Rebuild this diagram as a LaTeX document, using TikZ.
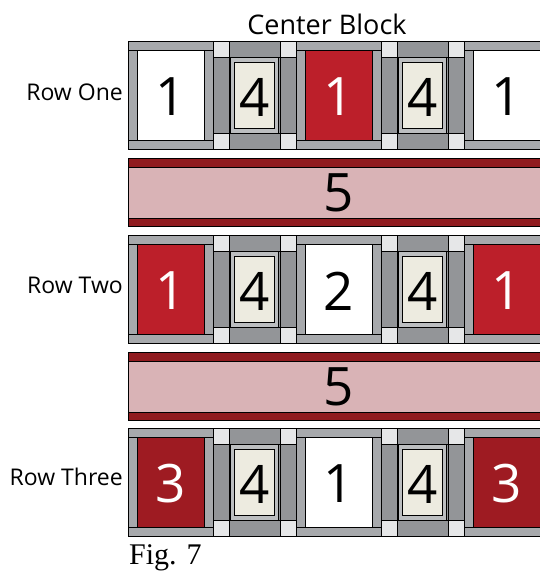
\documentclass[tikz,border=0pt]{standalone}
\usepackage{fontspec}
\setmainfont{Open Sans}
\newfontfamily\figfont{Liberation Serif}
\definecolor{bordergray}{HTML}{A7A9AC}
\definecolor{darkgray}{HTML}{939598}
\definecolor{sqgray}{HTML}{E6E7E8}
\definecolor{framegray}{HTML}{BCBEC0}
\definecolor{cream}{HTML}{EDEBE0}
\definecolor{brightred}{HTML}{BC1F2A}
\definecolor{deepred}{HTML}{9E1B22}
\definecolor{bandred}{HTML}{901B1F}
\definecolor{bandpink}{HTML}{D9B3B6}
\tikzset{
  piece/.style={draw=black, line width=0.8pt},
  digit/.style={font=\fontsize{53}{53}\selectfont, inner sep=0pt},
  rowlabel/.style={font=\fontsize{23}{24}\selectfont, anchor=east, inner sep=0pt},
}
% big block: x, y, fill, text colour, digit, name
\newcommand{\bigblk}[6]{%
  \fill[#3] (#1+9,#2+9) rectangle (#1+76,#2+99);
  \draw[piece] (#1+9,#2+9) rectangle (#1+76,#2+99);
  \draw[piece, fill=bordergray] (#1,#2) rectangle (#1+85,#2+9);
  \draw[piece, fill=bordergray] (#1,#2+99) rectangle (#1+85,#2+108);
  \draw[piece, fill=bordergray] (#1,#2+9) rectangle (#1+9,#2+99);
  \draw[piece, fill=bordergray] (#1+76,#2+9) rectangle (#1+85,#2+99);
  \node[digit, text=#4] (#6) at (#1+42.5,#2+56) {#5};
}
\newcommand{\sashcol}[2]{%
  \draw[piece, fill=sqgray] (#1,#2) rectangle (#1+16,#2+16);
  \draw[piece, fill=darkgray] (#1,#2+16) rectangle (#1+16,#2+92);
  \draw[piece, fill=sqgray] (#1,#2+92) rectangle (#1+16,#2+108);
}
\newcommand{\fourblk}[3]{%
  \draw[piece, fill=darkgray] (#1,#2) rectangle (#1+51,#2+16);
  \draw[piece, fill=darkgray] (#1,#2+92) rectangle (#1+51,#2+108);
  \draw[piece, fill=darkgray] (#1,#2+16) rectangle (#1+51,#2+92);
  \draw[piece, fill=framegray] (#1+1.5,#2+16) rectangle (#1+49.5,#2+92);
  \draw[piece, fill=cream] (#1+5.5,#2+21) rectangle (#1+45.5,#2+87);
  \node[digit] (#3) at (#1+25.5,#2+56) {4};
}
\newcommand{\bandrow}[3]{%
  \draw[piece, fill=bandpink] (128,#1) rectangle (560,#1+68);
  \draw[piece, fill=bandred] (128,#1) rectangle (560,#1+9);
  \draw[piece, fill=bandred] (128,#1+60) rectangle (560,#1+68);
  \node[digit] (#3) at (338.5,#1+35) {#2};
}
\begin{document}
\begin{tikzpicture}[x=1pt,y=-1pt]
\useasboundingbox (0,0) rectangle (540,571);
\clip (0,0) rectangle (540,571);
\fill[white] (0,0) rectangle (540,571);
% Row One
\bigblk{128}{41}{white}{black}{1}{r1a}
\sashcol{213}{41}
\fourblk{229}{41}{r1b}
\sashcol{280}{41}
\bigblk{296}{41}{brightred}{white}{1}{r1c}
\sashcol{381}{41}
\fourblk{397}{41}{r1d}
\sashcol{448}{41}
\bigblk{464}{41}{white}{black}{1}{r1e}
% band
\bandrow{158}{5}{b1}
% Row Two
\bigblk{128}{235}{brightred}{white}{1}{r2a}
\sashcol{213}{235}
\fourblk{229}{235}{r2b}
\sashcol{280}{235}
\bigblk{296}{235}{white}{black}{2}{r2c}
\sashcol{381}{235}
\fourblk{397}{235}{r2d}
\sashcol{448}{235}
\bigblk{464}{235}{brightred}{white}{1}{r2e}
% band
\bandrow{352}{5}{b2}
% Row Three
\bigblk{128}{428}{deepred}{white}{3}{r3a}
\sashcol{213}{428}
\fourblk{229}{428}{r3b}
\sashcol{280}{428}
\bigblk{296}{428}{white}{black}{1}{r3c}
\sashcol{381}{428}
\fourblk{397}{428}{r3d}
\sashcol{448}{428}
\bigblk{464}{428}{deepred}{white}{3}{r3e}
% labels
\node[font=\fontsize{27}{28}\selectfont, inner sep=0pt] (title) at (327,24) {Center Block};
\node[rowlabel] (l1) at (123,92) {Row One};
\node[rowlabel] (l2) at (123,285) {Row Two};
\node[rowlabel] (l3) at (123,477) {Row Three};
\node[font=\figfont\fontsize{30}{30}\selectfont, anchor=west, inner sep=0pt] (fig) at (129,558) {Fig. 7};
\end{tikzpicture}
\end{document}
